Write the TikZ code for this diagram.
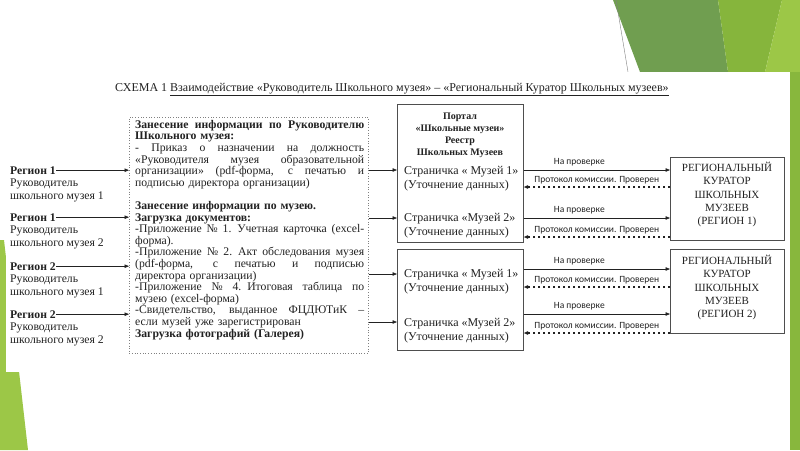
\documentclass[tikz,border=0pt]{standalone}
\usepackage{fontspec}
\setmainfont{Liberation Serif}
\newfontfamily\lblfont{Carlito}
\usepackage{xcolor}
\usepackage{tikz}
\usetikzlibrary{positioning,calc,arrows.meta}

\definecolor{olivegreen}{HTML}{709E50}
\definecolor{midgreen}{HTML}{86B53C}
\definecolor{lightgreen}{HTML}{9CC747}
\definecolor{inkgray}{HTML}{222222}

\newcommand{\jl}[1]{\leavevmode\hbox to 229pt{\spaceskip=0.25em plus 1fill\relax #1}}

\begin{document}
\begin{tikzpicture}[x=1pt, y=-1pt, >={Triangle[length=4.5pt, width=3.5pt]}, every node/.style={text=inkgray}, reg/.style={anchor=base west, inner sep=0pt, font=\fontsize{11.7}{12.5}\selectfont\bfseries}, sub/.style={anchor=base west, inner sep=0pt, align=left, font=\fontsize{11.7}{12.5}\selectfont}, frame/.style={draw=inkgray!80, line width=0.7pt, anchor=north west, inner sep=0pt}, item/.style={anchor=base west, inner sep=0pt, align=left, font=\fontsize{12}{14}\selectfont}, link/.style={->, draw=inkgray, line width=0.6pt}, back/.style={->, draw=inkgray, line width=2pt, dash pattern=on 2.5pt off 2.5pt}, lblup/.style={font=\lblfont\fontsize{9.5}{11}\selectfont, inner sep=1pt, above=3pt}, lbldown/.style={font=\lblfont\fontsize{9.5}{11}\selectfont, inner sep=1pt, above=1pt}]

\useasboundingbox (0,0) rectangle (800,450);
\fill[olivegreen] (613,0) -- (718,0) -- (728,72) -- (640,72) -- cycle;
\fill[midgreen] (718,0) -- (782,0) -- (765,72) -- (728,72) -- cycle;
\fill[lightgreen] (782,0) -- (800,0) -- (800,72) -- (765,72) -- cycle;
\fill[midgreen!90!lightgreen] (790,72) rectangle (800,450);
\fill[lightgreen] (0,240) -- (4,240) -- (28,450) -- (0,450) -- cycle;
\draw[gray, line width=0.4pt] (616,0) -- (628,72);
\fill[white] (6,72) rectangle (790,372);

\node[anchor=base west, inner sep=0pt, font=\fontsize{12}{14}\selectfont] (title) at (115,91) {СХЕМА 1 \underline{Взаимодействие «Руководитель Школьного музея» – «Региональный Куратор Школьных музеев»}};

\node[frame, draw=gray, dotted, line width=0.5pt, minimum width=239pt, minimum height=236pt] (info) at (129,117) {};
\node[anchor=north west, inner sep=0pt, text width=229pt, font=\fontsize{11.7}{11.6}\selectfont] (infotext) at (135,120) {%
\jl{\bfseries Занесение информации по Руководителю}\\
\textbf{Школьного музея:}\\
\jl{- Приказ о назначении на должность}\\
\jl{«Руководителя музея образовательной}\\
\jl{организации» (pdf-форма, с печатью и}\\
подписью директора организации)\\[11.6pt]
\textbf{Занесение информации по музею.}\\
\textbf{Загрузка документов:}\\
\jl{-Приложение № 1. Учетная карточка (excel-}\\
форма).\\
\jl{-Приложение № 2. Акт обследования музея}\\
\jl{(pdf-форма, с печатью и подписью}\\
директора организации)\\
\jl{-Приложение № 4. Итоговая таблица по}\\
музею (excel-форма)\\
\jl{-Свидетельство, выданное ФЦДЮТиК –}\\
если музей уже зарегистрирован\\
\textbf{Загрузка фотографий (Галерея)}};

\foreach \i/\r/\n/\y in {1/1/1/174, 2/1/2/221, 3/2/1/270, 4/2/2/318} {
\node[reg] (r\i) at (10,\y) {Регион \r};
\node[sub] (s\i) at ($(r\i.base west)+(0,25)$) {Руководитель\\школьного музея \n};
\draw[link] (r\i.east) -- (info.west |- r\i.east);
}

\node[frame, minimum width=126pt, minimum height=138pt] (box1) at (397,104) {};
\node[frame, minimum width=126pt, minimum height=101pt] (box2) at (397,249) {};
\node[anchor=north, inner sep=0pt, align=center, font=\fontsize{10}{12}\selectfont\bfseries] (head) at (460,113) {Портал\\«Школьные музеи»\\Реестр\\Школьных Музеев};
\node[item] (p1) at (404,188) {Страничка « Музей 1»\\(Уточнение данных)};
\node[item] (p2) at (404,235) {Страничка «Музей 2»\\(Уточнение данных)};
\node[item] (p3) at (404,291) {Страничка « Музей 1»\\(Уточнение данных)};
\node[item] (p4) at (404,340) {Страничка «Музей 2»\\(Уточнение данных)};

\foreach \y/\bx in {170/box1, 218/box1, 274/box2, 322/box2}
\draw[link] (info.east |- 0,\y) -- (\bx.west |- 0,\y);

\node[frame, minimum width=114pt, minimum height=83pt] (cur1) at (670,157) {};
\node[frame, minimum width=114pt, minimum height=84pt] (cur2) at (670,249) {};
\node[anchor=north, inner sep=0pt, align=center, font=\fontsize{11}{13.3}\selectfont] (c1) at (727,162) {РЕГИОНАЛЬНЫЙ\\КУРАТОР\\ШКОЛЬНЫХ\\МУЗЕЕВ\\(РЕГИОН 1)};
\node[anchor=north, inner sep=0pt, align=center, font=\fontsize{11}{13.3}\selectfont] (c2) at (727,255) {РЕГИОНАЛЬНЫЙ\\КУРАТОР\\ШКОЛЬНЫХ\\МУЗЕЕВ\\(РЕГИОН 2)};

\foreach \ya/\yb/\bx/\cr in {170/187/box1/cur1, 218/237/box1/cur1, 269/287/box2/cur2, 314/333/box2/cur2} {
\draw[link] (\bx.east |- 0,\ya) -- node[lblup, pos=0.38] {На проверке} (\cr.west |- 0,\ya);
\draw[back] (\cr.west |- 0,\yb) -- node[lbldown, pos=0.5] {Протокол комиссии. Проверен} (\bx.east |- 0,\yb);
}
\end{tikzpicture}
\end{document}
